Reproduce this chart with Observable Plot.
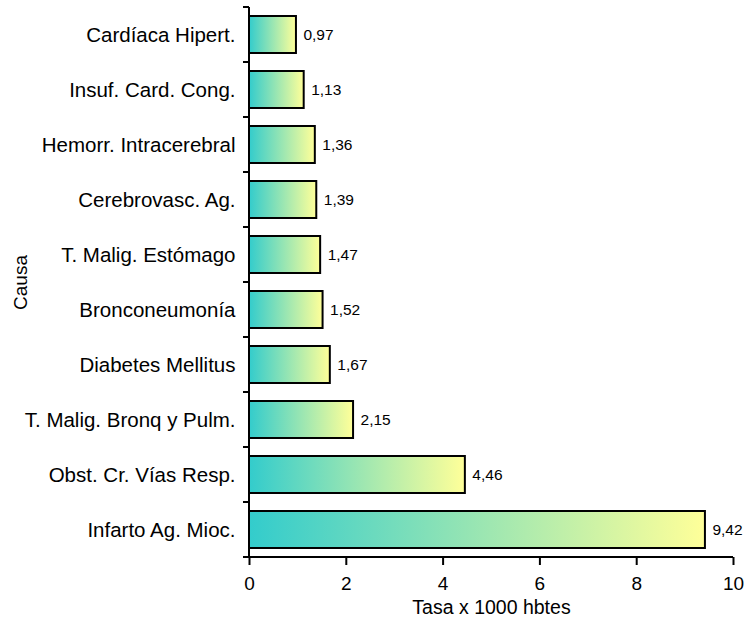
<!DOCTYPE html>
<html>
<head>
<meta charset="utf-8">
<script src="https://cdn.jsdelivr.net/npm/d3@7"></script>
<script src="https://cdn.jsdelivr.net/npm/@observablehq/plot@0.6"></script>
<style>
  html, body { margin: 0; padding: 0; background: #fff; }
  #chart { width: 747px; height: 622px; }
  svg { font-family: "Liberation Sans", Arial, sans-serif; }
</style>
</head>
<body>
<div id="chart"></div>
<script>
const causes = [
  "Cardíaca Hipert.",
  "Insuf. Card. Cong.",
  "Hemorr. Intracerebral",
  "Cerebrovasc. Ag.",
  "T. Malig. Estómago",
  "Bronconeumonía",
  "Diabetes Mellitus",
  "T. Malig. Bronq y Pulm.",
  "Obst. Cr. Vías Resp.",
  "Infarto Ag. Mioc."
];
const rates = [0.97, 1.13, 1.36, 1.39, 1.47, 1.52, 1.67, 2.15, 4.46, 9.42];
const xTicks = [0, 2, 4, 6, 8, 10];
const xLabel = "Tasa x 1000 hbtes";
const yLabel = "Causa";

const data = causes.map((c, i) => ({cause: c, rate: rates[i]}));
const fmt = v => v.toFixed(2).replace(".", ",");

// defs with a per-bar gradient
const defsMark = () => {
  const svg = d3.create("svg:defs");
  const g = svg.append("linearGradient").attr("id", "barGrad")
    .attr("x1", "0").attr("x2", "1").attr("y1", "0").attr("y2", "0");
  g.append("stop").attr("offset", "0%").attr("stop-color", "#33CCCC");
  g.append("stop").attr("offset", "100%").attr("stop-color", "#FFFF99");
  return svg.node();
};

// axis lines and y ticks at band boundaries
const axesMark = (index, scales, values, dims) => {
  const g = d3.create("svg:g").attr("stroke", "#000").attr("fill", "none").attr("stroke-width", 2);
  const y = scales.y, x = scales.x;
  const step = y.step();
  const top = y(causes[0]) - (step - y.bandwidth()) / 2;
  const bottom = top + step * causes.length;
  const x0 = x(0);
  g.append("line").attr("x1", x0).attr("x2", x0).attr("y1", top).attr("y2", bottom);
  g.append("line").attr("x1", x0).attr("x2", x(10)).attr("y1", bottom).attr("y2", bottom);
  for (let i = 0; i <= causes.length; i++) {
    const yy = top + i * step;
    g.append("line").attr("x1", x0 - 6).attr("x2", x0).attr("y1", yy).attr("y2", yy);
  }
  return g.node();
};

const chart = Plot.plot({
  width: 747,
  height: 622,
  marginTop: 7,
  marginBottom: 65,
  marginLeft: 249,
  marginRight: 14,
  style: {fontFamily: "Liberation Sans, Arial, sans-serif", fontSize: "20px", color: "#000", background: "#fff"},
  x: {domain: [0, 10], ticks: xTicks, tickFormat: d => d},
  y: {domain: causes, paddingInner: 0.33, paddingOuter: 0.165},
  marks: [
    defsMark,
    Plot.barX(data, {x: "rate", y: "cause", fill: "url(#barGrad)", stroke: "#000", strokeWidth: 2}),
    Plot.text(data, {x: "rate", y: "cause", text: d => fmt(d.rate), textAnchor: "start", dx: 7, fontSize: 15.5, fill: "#000"}),
    Plot.axisX({ticks: xTicks, tickSize: 8, tickPadding: 11, tickFormat: d => d, fontSize: 19, stroke: "#000", strokeWidth: 2, label: null}),
    Plot.axisY({tickSize: 0, tickPadding: 14, fontSize: 20.5, label: null}),
    axesMark,
    Plot.text([xLabel], {frameAnchor: "bottom", dy: 56, text: d => d, fontSize: 19.5, fill: "#000"}),
    Plot.text([yLabel], {frameAnchor: "left", dx: -229, rotate: -90, textAnchor: "middle", text: d => d, fontSize: 19, fill: "#000"})
  ]
});
document.getElementById("chart").appendChild(chart);
</script>
</body>
</html>
